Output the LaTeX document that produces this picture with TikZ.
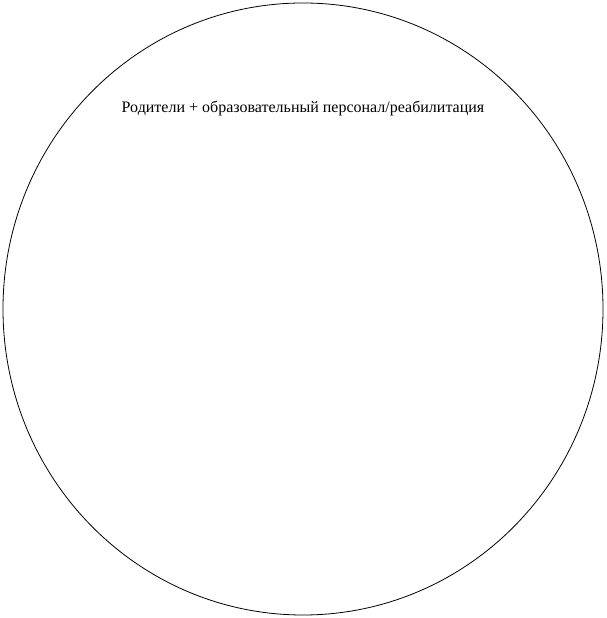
\documentclass[tikz,border=0pt]{standalone}
\usepackage{fontspec}
\setmainfont{Liberation Serif}
\begin{document}
\begin{tikzpicture}[x=1pt,y=1pt]
\useasboundingbox (0,0) rectangle (606,618);
\draw[line width=0.8pt] (303,309) ellipse [x radius=300, y radius=306];
\node[font=\fontsize{16}{18}\selectfont, inner sep=0pt] (lbl) at (303,510) {Родители + образовательный персонал/реабилитация};
\end{tikzpicture}
\end{document}
